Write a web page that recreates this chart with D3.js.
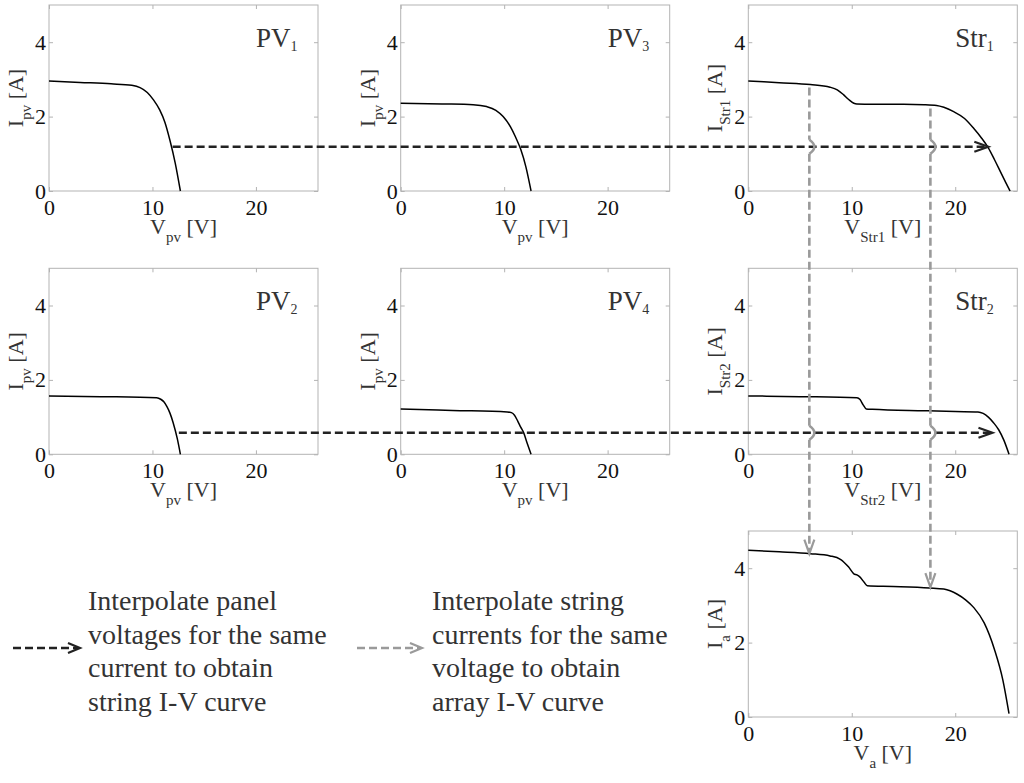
<!DOCTYPE html>
<html><head><meta charset="utf-8">
<script src="https://cdn.jsdelivr.net/npm/d3@7"></script>
<style>
body{margin:0;background:#fff}
svg{display:block}
text{font-family:"Liberation Serif","Times New Roman",serif}
</style>
</head><body>
<svg id="c" width="1024" height="783"></svg>
<script>
// ---------------- data ----------------
const pv1V = [0,3,6,8,8.8,9.5,10.1,10.7,11.2,11.7,12.2,12.7];
const pv1I = [2.96,2.92,2.88,2.84,2.78,2.65,2.45,2.18,1.85,1.35,0.75,0];
const pv3V = [0,4,7,8.3,9.2,9.9,10.6,11.1,11.6,12.1,12.6];
const pv3I = [2.36,2.34,2.32,2.27,2.17,2.0,1.73,1.45,1.12,0.65,0];
const pv2V = [0,5,10.4,10.8,11.1,11.4,11.7,12.0,12.4,12.7];
const pv2I = [1.57,1.55,1.52,1.48,1.41,1.28,1.10,0.85,0.42,0];
const pv4V = [0,5,10.3,10.7,11.0,11.3,11.6,11.9,12.2,12.6];
const pv4I = [1.22,1.18,1.14,1.12,1.05,0.90,0.73,0.57,0.32,0];
const str1V = [0,3,6,7.9,8.6,9.2,9.7,10.2,10.5,12,15,17,18.2,18.9,19.8,20.9,21.8,22.5,23.2,23.8,24.4,24.9,25.3];
const str1I = [2.96,2.91,2.86,2.79,2.72,2.59,2.46,2.36,2.34,2.33,2.33,2.32,2.30,2.25,2.14,1.95,1.68,1.44,1.16,0.84,0.50,0.22,0];
const str2V = [0,5,10.5,10.8,11.1,11.4,12,17,20,22.2,22.7,23.2,23.7,24.2,24.7,25.2];
const str2I = [1.57,1.55,1.52,1.47,1.33,1.22,1.21,1.17,1.15,1.14,1.10,1.00,0.85,0.66,0.38,0];
const arrV = [0,3,6,7.9,8.9,9.7,10.2,10.5,10.8,11.2,11.5,14,17.5,18.9,20.2,21,21.8,22.8,23.8,24.6,25.2];
const arrI = [4.48,4.44,4.39,4.33,4.24,4.03,3.85,3.82,3.76,3.62,3.53,3.51,3.47,3.44,3.30,3.15,2.94,2.53,1.81,1.0,0.09];

const xTicks = [0,10,20];
const yTicks = [0,2,4];
const xDomain = [0,26];
const yDomain = [0,5];

// interpolation arrows (data units)
const rowCurrent = [1.19, 0.58];      // same-current lines (row 1, row 2)
const rowStartV  = [11.95, 12.55];    // start voltage in PV1 / PV2
const rowEndV    = [23.2, 23.6];      // arrow tip voltage in Str1 / Str2
const colVoltage = [5.9, 17.6];       // same-voltage lines
const colStartI  = [2.78, 2.22];      // start current in Str1
const colEndI    = [4.39, 3.49];      // arrow tip current in array panel

const legendTexts = [
  ["Interpolate panel","voltages for the same","current to obtain","string I-V curve"],
  ["Interpolate string","currents for the same","voltage to obtain","array I-V curve"]
];

// ---------------- layout ----------------
const W = 269, H = 186;
const colX = [49, 400.7, 748.3];
const rowY = [5, 268.3, 531];
const panels = [
  {key:"pv1", c:0, r:0, V:pv1V, I:pv1I, title:["PV","1"], xl:["V","pv"], yl:["I","pv"]},
  {key:"pv3", c:1, r:0, V:pv3V, I:pv3I, title:["PV","3"], xl:["V","pv"], yl:["I","pv"]},
  {key:"str1",c:2, r:0, V:str1V,I:str1I,title:["Str","1"],xl:["V","Str1"],yl:["I","Str1"]},
  {key:"pv2", c:0, r:1, V:pv2V, I:pv2I, title:["PV","2"], xl:["V","pv"], yl:["I","pv"]},
  {key:"pv4", c:1, r:1, V:pv4V, I:pv4I, title:["PV","4"], xl:["V","pv"], yl:["I","pv"]},
  {key:"str2",c:2, r:1, V:str2V,I:str2I,title:["Str","2"],xl:["V","Str2"],yl:["I","Str2"]},
  {key:"arr", c:2, r:2, V:arrV, I:arrI, title:null, xl:["V","a"], yl:["I","a"]}
];

const svg = d3.select("#c");
const boxColor = "#b3b3b3";
const S = {};

panels.forEach(p => {
  const left = colX[p.c], top = rowY[p.r];
  const x = d3.scaleLinear().domain(xDomain).range([left, left + W]);
  const y = d3.scaleLinear().domain(yDomain).range([top + H, top]);
  S[p.key] = {x, y};
  const g = svg.append("g");

  // ticks (inward, all sides)
  const mk = (axis, tr, labels) => {
    const a = g.append("g").attr("transform", tr).call(axis);
    a.attr("font-family", null).attr("font-size", null);
    a.select(".domain").remove();
    a.selectAll(".tick line").attr("stroke", boxColor);
    a.selectAll(".tick text").attr("fill", "#111").style("font-size", "22px");
    if (!labels) a.selectAll(".tick text").remove();
    return a;
  };
  mk(d3.axisBottom(x).tickValues(xTicks).tickSizeInner(-4).tickSizeOuter(0).tickPadding(8).tickFormat(d3.format("d")),
     `translate(0,${top + H})`, true);
  mk(d3.axisTop(x).tickValues(xTicks).tickSizeInner(-4).tickSizeOuter(0),
     `translate(0,${top})`, false);
  mk(d3.axisLeft(y).tickValues(yTicks).tickSizeInner(-4).tickSizeOuter(0).tickPadding(3).tickFormat(d3.format("d")),
     `translate(${left},0)`, true);
  mk(d3.axisRight(y).tickValues(yTicks).tickSizeInner(-4).tickSizeOuter(0),
     `translate(${left + W},0)`, false);

  g.append("rect").attr("x", left).attr("y", top).attr("width", W).attr("height", H)
    .attr("fill", "none").attr("stroke", boxColor).attr("stroke-width", 1);

  // curve
  const pts = p.V.map((v, i) => [v, p.I[i]]);
  g.append("path").datum(pts)
    .attr("d", d3.line().x(d => x(d[0])).y(d => y(d[1])).curve(d3.curveMonotoneX))
    .attr("fill", "none").attr("stroke", "#000").attr("stroke-width", 1.5);

  // title
  if (p.title) {
    const t = g.append("text").attr("x", left + 207).attr("y", top + 42)
      .attr("fill", "#333").style("font-size", "27px");
    t.append("tspan").text(p.title[0]);
    t.append("tspan").attr("dy", 4).style("font-size", "14px").text(p.title[1]);
  }
  // x label
  const xl = g.append("text").attr("x", left + W / 2).attr("y", top + H + 43)
    .attr("text-anchor", "middle").attr("fill", "#333").style("font-size", "22px");
  xl.append("tspan").text(p.xl[0]);
  xl.append("tspan").attr("dy", 8).style("font-size", "15px").text(p.xl[1]);
  xl.append("tspan").attr("dy", -8).text(" [V]");
  // y label
  const yl = g.append("text")
    .attr("transform", `translate(${left - 26},${top + H / 2}) rotate(-90)`)
    .attr("text-anchor", "middle").attr("fill", "#333").style("font-size", "22px");
  yl.append("tspan").text(p.yl[0]);
  yl.append("tspan").attr("dy", 8).style("font-size", "15px").text(p.yl[1]);
  yl.append("tspan").attr("dy", -8).text(" [A]");
});

// ---------------- interpolation arrows ----------------
const black = "#222", gray = "#9a9a9a";
const ov = svg.append("g");
const rowPanels = [["pv1", "str1"], ["pv2", "str2"]];
rowCurrent.forEach((cur, i) => {
  const [a, b] = rowPanels[i];
  const yy = S[a].y(cur);
  const x0 = S[a].x(rowStartV[i]), x1 = S[b].x(rowEndV[i]);
  ov.append("line").attr("x1", x0).attr("x2", x1 - 2).attr("y1", yy).attr("y2", yy)
    .attr("stroke", black).attr("stroke-width", 2.6).attr("stroke-dasharray", "8,4");
  ov.append("path").attr("d", `M${x1 - 14},${yy - 5}L${x1},${yy}L${x1 - 14},${yy + 5}`)
    .attr("fill", "none").attr("stroke", black).attr("stroke-width", 2.2);
});

colVoltage.forEach((v, i) => {
  const xx = S.str1.x(v);
  const y0 = S.str1.y(colStartI[i]);
  const yTip = S.arr.y(colEndI[i]);
  const cross = [S.str1.y(rowCurrent[0]), S.str2.y(rowCurrent[1])];
  const hop = 7;
  const segs = [[y0, cross[0] - hop], [cross[0] + hop, cross[1] - hop], [cross[1] + hop, yTip - 2]];
  segs.forEach(s => {
    ov.append("line").attr("x1", xx).attr("x2", xx).attr("y1", s[0]).attr("y2", s[1])
      .attr("stroke", gray).attr("stroke-width", 2.6).attr("stroke-dasharray", "8,4");
  });
  cross.forEach(yc => {
    ov.append("path").attr("d", `M${xx},${yc - hop}Q${xx + 10},${yc} ${xx},${yc + hop}`)
      .attr("fill", "none").attr("stroke", gray).attr("stroke-width", 2.6);
  });
  ov.append("path").attr("d", `M${xx - 5},${yTip - 14}L${xx},${yTip}L${xx + 5},${yTip - 14}`)
    .attr("fill", "none").attr("stroke", gray).attr("stroke-width", 2.2);
});

// ---------------- legend ----------------
const leg = [{x0: 13, x1: 80, tx: 88, col: black}, {x0: 357, x1: 422, tx: 432, col: gray}];
leg.forEach((l, i) => {
  const yy = 648;
  svg.append("line").attr("x1", l.x0).attr("x2", l.x1 - 2).attr("y1", yy).attr("y2", yy)
    .attr("stroke", l.col).attr("stroke-width", 2.6).attr("stroke-dasharray", "8,4");
  svg.append("path").attr("d", `M${l.x1 - 12},${yy - 5}L${l.x1},${yy}L${l.x1 - 12},${yy + 5}`)
    .attr("fill", "none").attr("stroke", l.col).attr("stroke-width", 2.2);
  const t = svg.append("text").attr("fill", "#333").style("font-size", "28px");
  legendTexts[i].forEach((line, j) => {
    t.append("tspan").attr("x", l.tx).attr("y", 610 + j * 33.7).text(line);
  });
});
</script>
</body></html>
